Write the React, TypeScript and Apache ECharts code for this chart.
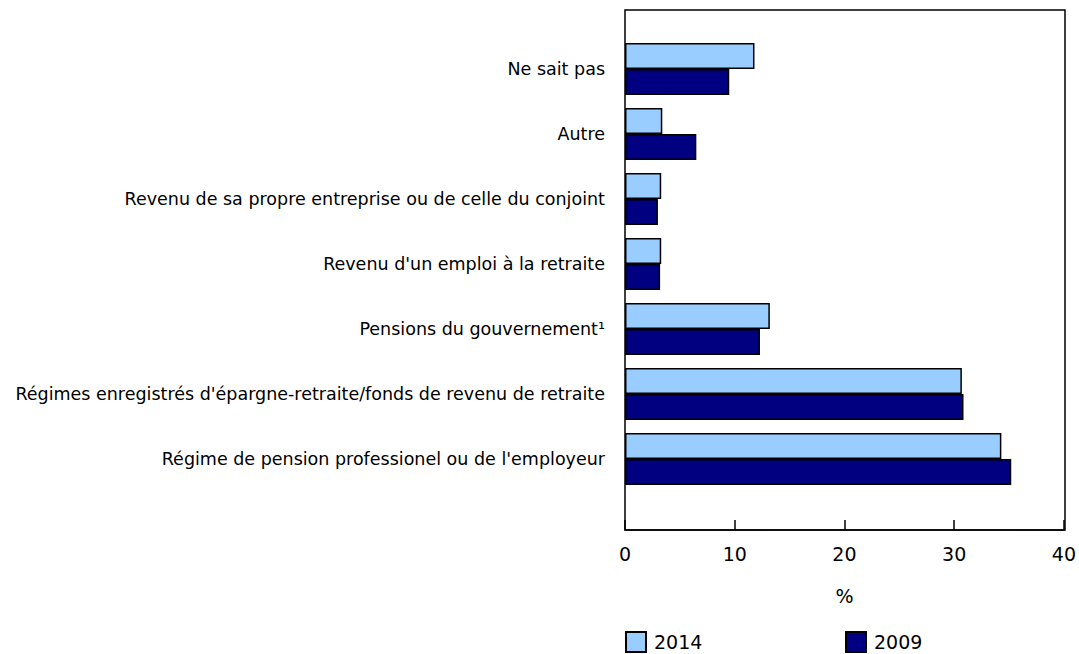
import React, { useEffect, useRef } from "react";
import * as echarts from "echarts";

const categories = [
  "Régime de pension professionel ou de l'employeur",
  "Régimes enregistrés d'épargne-retraite/fonds de revenu de retraite",
  "Pensions du gouvernement¹",
  "Revenu d'un emploi à la retraite",
  "Revenu de sa propre entreprise ou de celle du conjoint",
  "Autre",
  "Ne sait pas",
];
const values2014 = [34.3, 30.7, 13.2, 3.3, 3.3, 3.4, 11.8];
const values2009 = [35.2, 30.85, 12.3, 3.2, 3.0, 6.5, 9.5];
const xTicks = [0, 10, 20, 30, 40];

export default function App() {
  const ref = useRef<HTMLDivElement>(null);
  useEffect(() => {
    const chart = echarts.init(ref.current!, undefined, { renderer: "svg" });
    const font = "DejaVu Sans, Verdana, sans-serif";
    const legendText = { fontSize: 19, fontFamily: font, color: "#000", padding: [0, 0, 0, 3] };
    chart.setOption({
      animation: false,
      textStyle: { fontFamily: font, color: "#000" },
      grid: { left: 625, width: 440, top: 36.5, height: 455, containLabel: false },
      xAxis: {
        type: "value",
        min: xTicks[0],
        max: xTicks[xTicks.length - 1],
        interval: 10,
        offset: 38.5,
        axisLine: { show: true, lineStyle: { color: "#000", width: 1.5 } },
        axisTick: { show: true, inside: true, length: 10, lineStyle: { color: "#000", width: 1.5 } },
        axisLabel: { color: "#000", fontSize: 19, fontFamily: font, margin: 14 },
        splitLine: { show: false },
        name: "%",
        nameLocation: "middle",
        nameGap: 56,
        nameTextStyle: { color: "#000", fontSize: 19, fontFamily: font },
      },
      yAxis: {
        type: "category",
        data: categories,
        axisLine: { show: false },
        axisTick: { show: false },
        axisLabel: { color: "#000", fontSize: 17.5, fontFamily: font, margin: 20 },
      },
      legend: [
        {
          data: ["2014"],
          left: 625,
          top: 631,
          padding: 0,
          icon: "rect",
          itemWidth: 20,
          itemHeight: 20,
          textStyle: legendText,
        },
        {
          data: ["2009"],
          left: 845,
          top: 631,
          padding: 0,
          icon: "rect",
          itemWidth: 20,
          itemHeight: 20,
          textStyle: legendText,
        },
      ],
      graphic: [
        {
          type: "rect",
          shape: { x: 625, y: 10, width: 440, height: 520 },
          style: { fill: "none", stroke: "#000", lineWidth: 1.5 },
          silent: true,
          z: 10,
        },
      ],
      series: [
        {
          name: "2014",
          type: "bar",
          data: values2014,
          barGap: "0%",
          barCategoryGap: "20%",
          itemStyle: { color: "#99CCFF", borderColor: "#000", borderWidth: 1.5 },
        },
        {
          name: "2009",
          type: "bar",
          data: values2009,
          barGap: "0%",
          barCategoryGap: "20%",
          itemStyle: { color: "#000080", borderColor: "#000", borderWidth: 1.5 },
        },
      ],
    });
    return () => chart.dispose();
  }, []);
  return (
    <div
      ref={ref}
      style={{ position: "absolute", left: 0, top: 0, width: 1079, height: 654 }}
    />
  );
}
